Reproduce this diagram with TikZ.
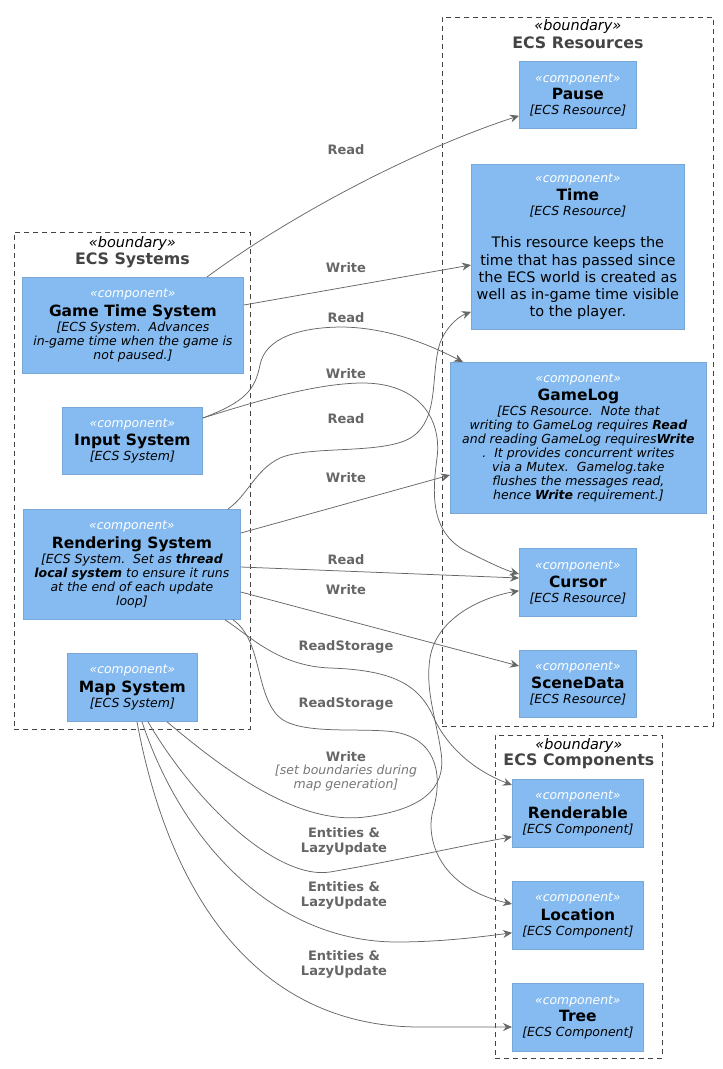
\documentclass[tikz,border=0pt]{standalone}
\usepackage{fontspec}
\setmainfont{DejaVu Sans}
\usetikzlibrary{arrows.meta,calc}
\definecolor{compfill}{HTML}{85BBF0}
\definecolor{compline}{HTML}{78A8D8}
\definecolor{bndline}{HTML}{444444}
\definecolor{reltext}{HTML}{666666}
\definecolor{relline}{HTML}{666666}
\definecolor{reltech}{HTML}{777777}
\newcommand{\Cst}{\fontsize{12.4}{14}\selectfont\itshape\color{white}«component»}
\newcommand{\Cti}[1]{\fontsize{15.5}{18}\selectfont\bfseries\color{black}#1}
\newcommand{\Cte}[1]{\fontsize{12.5}{14}\selectfont\itshape\color{black}#1}
\newcommand{\Cde}[1]{\fontsize{14.5}{16}\selectfont\color{black}#1}
\begin{document}
\begin{tikzpicture}[x=1pt,y=-1pt,
  comp/.style={draw=compline, fill=compfill, line width=0.8pt, anchor=north west, inner sep=0pt, align=center, font=\fontsize{12.5}{14}\selectfont},
  bnd/.style={draw=bndline, dash pattern=on 5pt off 4pt, line width=0.8pt, anchor=north west, inner sep=0pt},
  bst/.style={font=\fontsize{14.5}{16}\selectfont\itshape, text=black, inner sep=0pt},
  bttl/.style={font=\fontsize{15.8}{18}\selectfont\bfseries, text=bndline, inner sep=0pt},
  rel/.style={draw=relline, line width=0.75pt, -{Stealth[length=9pt,width=8pt,inset=3pt]}},
  rlab/.style={text=reltext, font=\fontsize{13}{15}\selectfont\bfseries, inner sep=0pt, align=center},
  rtech/.style={text=reltech, font=\fontsize{12.5}{14}\selectfont\itshape, inner sep=0pt, align=center}]
\useasboundingbox (0,0) rectangle (723,1069);
% boundaries
\node[bnd, minimum width=271pt, minimum height=709pt] (resb) at (442,17) {};
\node[bnd, minimum width=236pt, minimum height=497pt] (sysb) at (14,232) {};
\node[bnd, minimum width=167pt, minimum height=323pt] (cmpb) at (495,735) {};
\node[bst] (resbst) at ($(resb.north)+(0,9)$) {«boundary»};
\node[bttl] (resbt) at ($(resb.north)+(0,26)$) {ECS Resources};
\node[bst] (sysbst) at ($(sysb.north)+(0,11)$) {«boundary»};
\node[bttl] (sysbt) at ($(sysb.north)+(0,28)$) {ECS Systems};
\node[bst] (cmpbst) at ($(cmpb.north)+(0,10)$) {«boundary»};
\node[bttl] (cmpbt) at ($(cmpb.north)+(0,26)$) {ECS Components};
% resources
\node[comp, minimum width=117pt, minimum height=67pt] (pause) at (519,61)
  {\Cst\\[3pt]\Cti{Pause}\\[1pt]\Cte{[ECS Resource]}};
\node[comp, minimum width=213pt, minimum height=165pt] (time) at (471,164)
  {\Cst\\[3pt]\Cti{Time}\\[1pt]\Cte{[ECS Resource]}\\[18pt]
   \Cde{This resource keeps the}\\[2.5pt]\Cde{time that has passed since}\\[2.5pt]
   \Cde{the ECS world is created as}\\[2.5pt]\Cde{well as in-game time visible}\\[2.5pt]
   \Cde{to the player.}};
\node[comp, minimum width=256pt, minimum height=151pt] (gamelog) at (450,362)
  {\Cst\\[3pt]\Cti{GameLog}\\[1pt]\Cte{[ECS Resource.\ \ Note that}\\
   \Cte{writing to GameLog requires \textbf{Read}}\\
   \Cte{and reading GameLog requires\textbf{Write}}\\
   \Cte{.\ \ It provides concurrent writes}\\
   \Cte{via a Mutex.\ \ Gamelog.take}\\
   \Cte{flushes the messages read,}\\
   \Cte{hence \textbf{Write} requirement.]}};
\node[comp, minimum width=117pt, minimum height=68pt] (cursor) at (519,548)
  {\Cst\\[3pt]\Cti{Cursor}\\[1pt]\Cte{[ECS Resource]}};
\node[comp, minimum width=117pt, minimum height=67pt] (scenedata) at (519,650)
  {\Cst\\[3pt]\Cti{SceneData}\\[1pt]\Cte{[ECS Resource]}};
% systems
\node[comp, minimum width=221pt, minimum height=96pt] (gts) at (22,277)
  {\Cst\\[3pt]\Cti{Game Time System}\\[1pt]\Cte{[ECS System.\ \ Advances}\\
   \Cte{in-game time when the game is}\\\Cte{not paused.]}};
\node[comp, minimum width=140pt, minimum height=67pt] (input) at (62,407)
  {\Cst\\[3pt]\Cti{Input System}\\[1pt]\Cte{[ECS System]}};
\node[comp, minimum width=217pt, minimum height=110pt] (rendering) at (23,509)
  {\Cst\\[3pt]\Cti{Rendering System}\\[1pt]\Cte{[ECS System.\ \ Set as \textbf{thread}}\\
   \Cte{\textbf{local system} to ensure it runs}\\\Cte{at the end of each update}\\\Cte{loop]}};
\node[comp, minimum width=130pt, minimum height=68pt] (map) at (67,653)
  {\Cst\\[3pt]\Cti{Map System}\\[1pt]\Cte{[ECS System]}};
% components
\node[comp, minimum width=131pt, minimum height=68pt] (renderable) at (512,779)
  {\Cst\\[3pt]\Cti{Renderable}\\[1pt]\Cte{[ECS Component]}};
\node[comp, minimum width=131pt, minimum height=68pt] (location) at (512,881)
  {\Cst\\[3pt]\Cti{Location}\\[1pt]\Cte{[ECS Component]}};
\node[comp, minimum width=131pt, minimum height=68pt] (tree) at (512,983)
  {\Cst\\[3pt]\Cti{Tree}\\[1pt]\Cte{[ECS Component]}};
% relations
\draw[rel] ($(gts.north west)+(185,0)$) .. controls (295,212) and (420,148) .. ($(pause.south west)+(0,-13)$);
\draw[rel] ($(gts.north east)+(0,28)$) -- ($(time.north west)+(0,101)$);
\draw[rel] ($(input.north east)+(0,11)$) .. controls (245,402) and (255,390) .. (260,365)
  .. controls (265,338) and (300,327) .. (343,327) .. controls (390,328) and (430,345) .. ($(gamelog.north west)+(13,0)$);
\draw[rel] ($(input.north east)+(0,11)$) .. controls (260,400) and (315,384) .. (360,383)
  .. controls (420,382) and (442,420) .. (437,458) .. controls (432,495) and (430,535) .. (470,553)
  .. controls (490,563) and (505,570) .. ($(cursor.north west)+(0,26)$);
\draw[rel] ($(rendering.north west)+(205,0)$) .. controls (248,495) and (255,470) .. (280,458)
  .. controls (310,445) and (385,455) .. (412,437) .. controls (440,418) and (430,375) .. (440,343)
  .. controls (447,325) and (460,316) .. ($(time.south west)+(0,-18)$);
\draw[rel] ($(rendering.north east)+(0,24)$) -- ($(gamelog.north west)+(0,113)$);
\draw[rel] ($(rendering.north east)+(0,58)$) -- ($(cursor.north west)+(0,30)$);
\draw[rel] ($(rendering.north east)+(0,83)$) -- ($(scenedata.north west)+(0,16)$);
\draw[rel] ($(rendering.south west)+(202,0)$) .. controls (250,636) and (278,666) .. (330,668)
  .. controls (390,670) and (418,683) .. (433,716) .. controls (448,750) and (478,772) .. ($(renderable.north west)+(0,6)$);
\draw[rel] ($(rendering.south west)+(210,0)$) .. controls (262,640) and (255,692) .. (278,716)
  .. controls (298,736) and (360,727) .. (395,732) .. controls (440,740) and (442,780) .. (433,810)
  .. controls (425,840) and (440,888) .. ($(location.north west)+(0,23)$);
\draw[rel] ($(map.south west)+(100,0)$) .. controls (230,775) and (300,825) .. (365,817)
  .. controls (420,810) and (447,790) .. (441,752) .. controls (436,718) and (425,690) .. (430,658)
  .. controls (436,620) and (478,598) .. ($(cursor.south west)+(0,-26)$);
\draw[rel] ($(map.south west)+(81,0)$) .. controls (200,810) and (280,880) .. (330,872)
  .. controls (400,860) and (450,848) .. ($(renderable.south west)+(0,-11)$);
\draw[rel] ($(map.south west)+(75,0)$) .. controls (185,850) and (280,942) .. (397,942)
  .. controls (440,942) and (480,937) .. ($(location.south west)+(0,-17)$);
\draw[rel] ($(map.south west)+(70,0)$) .. controls (170,900) and (260,1027) .. (420,1027) -- ($(tree.north west)+(0,44)$);
% relation labels
\node[rlab] (l1) at (346,150) {Read};
\node[rlab] (l2) at (346,268) {Write};
\node[rlab] (l3) at (346,318) {Read};
\node[rlab] (l4) at (346,374) {Write};
\node[rlab] (l5) at (346,419) {Read};
\node[rlab] (l6) at (346,478) {Write};
\node[rlab] (l7) at (346,560) {Read};
\node[rlab] (l8) at (346,590) {Write};
\node[rlab] (l9) at (346,647) {ReadStorage};
\node[rlab] (l10) at (346,704) {ReadStorage};
\node[rlab] (l11) at (346,757) {Write};
\node[rtech] (l11t) at (346,778) {[set boundaries during\\map generation]};
\node[rlab] (l12) at (344,841) {Entities \&\\LazyUpdate};
\node[rlab] (l13) at (344,895) {Entities \&\\LazyUpdate};
\node[rlab] (l14) at (344,964) {Entities \&\\LazyUpdate};
\end{tikzpicture}
\end{document}
